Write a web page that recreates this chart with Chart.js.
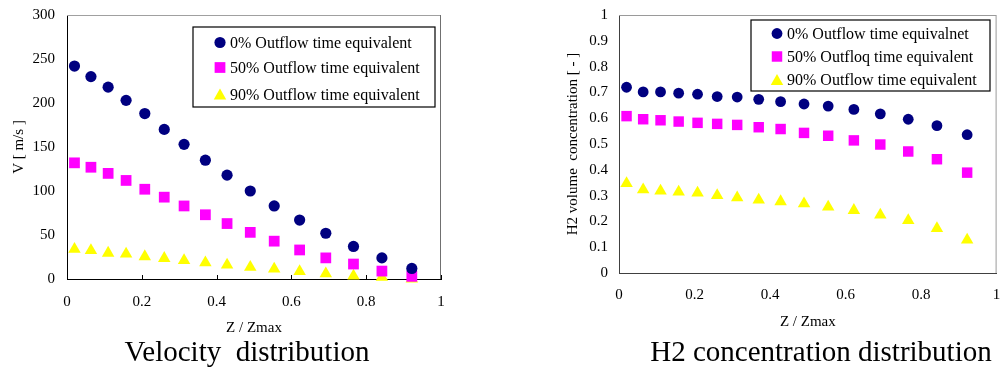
<!DOCTYPE html>
<html>
<head>
<meta charset="utf-8">
<script src="https://cdn.jsdelivr.net/npm/chart.js@4.4.1/dist/chart.umd.min.js"></script>
<style>
  html, body { margin: 0; padding: 0; background: #fff; }
  body { width: 1004px; height: 369px; position: relative; overflow: hidden; font-family: "Liberation Serif", "Times New Roman", serif; }
  canvas { position: absolute; top: 0; }
  #velChart { left: 0; }
  #h2Chart { left: 530px; }
  .caption { position: absolute; top: 337px; font-size: 29px; line-height: 29px; white-space: pre; transform: translateX(-50%); color: #000; }
</style>
</head>
<body>
<canvas id="velChart" width="470" height="340"></canvas>
<canvas id="h2Chart" width="474" height="340"></canvas>
<div class="caption" style="left:247px">Velocity  distribution</div>
<div class="caption" style="left:821px">H2 concentration distribution</div>
<script>
// Z / Zmax positions shared by every series
const zRatio = [0.02, 0.064, 0.11, 0.158, 0.208, 0.26, 0.313, 0.37, 0.428, 0.49, 0.554, 0.622, 0.692, 0.766, 0.842, 0.922];

const velocity0 = [242, 230, 218, 203, 188, 170, 153, 135, 118, 100, 83, 67, 52, 37, 24, 12];
const velocity50 = [132, 127, 120, 112, 102, 93, 83, 73, 63, 53, 43, 33, 24, 17, 9, 3];
const velocity90 = [34, 32.5, 29.5, 28.5, 25.5, 23.5, 21, 18.5, 16, 13.5, 11.5, 8.5, 6, 3.5, 2, 0];

const h2Conc0 = [0.72, 0.702, 0.702, 0.697, 0.693, 0.684, 0.682, 0.673, 0.664, 0.655, 0.647, 0.634, 0.617, 0.596, 0.571, 0.536];
const h2Conc50 = [0.608, 0.596, 0.592, 0.587, 0.582, 0.578, 0.574, 0.565, 0.558, 0.543, 0.532, 0.514, 0.498, 0.471, 0.441, 0.389];
const h2Conc90 = [0.347, 0.323, 0.318, 0.314, 0.31, 0.301, 0.292, 0.283, 0.277, 0.269, 0.256, 0.243, 0.225, 0.204, 0.173, 0.128];

const velocityLabels = ["0% Outflow time equivalent", "50% Outflow time equivalent", "90% Outflow time equivalent"];
const h2Labels = ["0% Outflow time equivalnet", "50% Outfloq time equivalent", "90% Outflow time equivalent"];

const seriesColors = ["#000080", "#ff00ff", "#ffff00"];
const seriesStyles = ["circle", "rect", "triangle"];

const FONT = "'Liberation Serif', 'Times New Roman', serif";

function toPoints(ys) {
  return zRatio.map((z, i) => ({ x: z, y: ys[i] }));
}

function makeDatasets(labels, series, radii) {
  return series.map((ys, i) => ({
    label: labels[i],
    data: toPoints(ys),
    pointStyle: seriesStyles[i],
    pointRadius: radii[i],
    pointHoverRadius: radii[i],
    pointBorderWidth: 0,
    pointBackgroundColor: seriesColors[i],
    borderColor: seriesColors[i],
    showLine: false,
    clip: false,
  }));
}

function drawMarker(ctx, style, r, x, y, color) {
  ctx.fillStyle = color;
  ctx.beginPath();
  if (style === "circle") {
    ctx.arc(x, y, r, 0, Math.PI * 2);
  } else if (style === "rect") {
    const s = r * Math.SQRT1_2;
    ctx.rect(x - s, y - s, 2 * s, 2 * s);
  } else {
    ctx.moveTo(x, y - r);
    ctx.lineTo(x + 0.866 * r, y + 0.5 * r);
    ctx.lineTo(x - 0.866 * r, y + 0.5 * r);
    ctx.closePath();
  }
  ctx.fill();
}

function plainTick(v) {
  return String(Math.round(v * 10) / 10);
}

// plot area frame (top/right edges) and small inward ticks on x axis
const framePlugin = {
  id: "frame",
  beforeDatasetsDraw(chart, args, opts) {
    const a = chart.chartArea;
    const ctx = chart.ctx;
    ctx.save();
    ctx.lineWidth = 1;
    ctx.strokeStyle = opts.topColor;
    ctx.beginPath();
    ctx.moveTo(a.left, a.top + 0.5);
    ctx.lineTo(a.right - 0.5, a.top + 0.5);
    ctx.stroke();
    ctx.strokeStyle = opts.rightColor;
    ctx.beginPath();
    ctx.moveTo(a.right - 0.5, a.top);
    ctx.lineTo(a.right - 0.5, a.bottom);
    ctx.stroke();
    if (opts.innerTicks) {
      const xs = chart.scales.x;
      ctx.strokeStyle = opts.axisColor;
      ctx.beginPath();
      xs.ticks.forEach(t => {
        const px = Math.round(xs.getPixelForValue(t.value)) + 0.5;
        ctx.moveTo(px, a.bottom);
        ctx.lineTo(px, a.bottom - 4);
      });
      ctx.stroke();
    }
    ctx.restore();
  },
};

// framed legend inside the plot area
const boxLegendPlugin = {
  id: "boxLegend",
  afterDraw(chart, args, opts) {
    const ctx = chart.ctx;
    const [x1, y1, x2, y2] = opts.box;
    ctx.save();
    ctx.fillStyle = "#fff";
    ctx.fillRect(x1, y1, x2 - x1, y2 - y1);
    ctx.strokeStyle = "#000";
    ctx.lineWidth = 1.2;
    ctx.strokeRect(x1, y1, x2 - x1, y2 - y1);
    ctx.font = "16px " + FONT;
    ctx.textBaseline = "alphabetic";
    ctx.textAlign = "left";
    chart.data.datasets.forEach((ds, i) => {
      const y = opts.rows[i];
      const r = ds.pointRadius;
      const dy = ds.pointStyle === "triangle" ? r / 4 : 0;
      drawMarker(ctx, ds.pointStyle, r, opts.markerX, y + dy, ds.pointBackgroundColor);
      ctx.fillStyle = "#000";
      ctx.fillText(ds.label, opts.textX, y + 5.5);
    });
    ctx.restore();
  },
};

function makeChart(id, cfg) {
  return new Chart(document.getElementById(id), {
    type: "scatter",
    data: { datasets: cfg.datasets },
    options: {
      responsive: false,
      animation: false,
      devicePixelRatio: 1,
      layout: { padding: { left: 0, top: 15, right: cfg.padRight, bottom: 0 } },
      plugins: {
        legend: { display: false },
        tooltip: { enabled: false },
        frame: cfg.frame,
        boxLegend: cfg.legend,
      },
      scales: {
        x: {
          type: "linear",
          min: 0,
          max: 1,
          ticks: { stepSize: 0.2, padding: cfg.xTickPad, color: "#000", font: { family: FONT, size: 15 }, callback: plainTick },
          grid: { display: false, drawTicks: false },
          border: { display: true, color: cfg.frame.axisColor, width: 1 },
          title: { display: true, text: "Z / Zmax", color: "#000", font: { family: FONT, size: 15 }, padding: { top: 0, bottom: cfg.xTitlePad } },
          afterFit(scale) {
            scale.height = cfg.xHeight;
            scale.paddingLeft = 0;
            scale.paddingRight = 0;
          },
        },
        y: {
          type: "linear",
          min: 0,
          max: cfg.yMax,
          ticks: { stepSize: cfg.yStep, padding: cfg.yTickPad, color: "#000", font: { family: FONT, size: 15 }, callback: plainTick },
          grid: { display: false, drawTicks: false },
          border: { display: true, color: cfg.frame.axisColor, width: 1 },
          title: { display: true, text: cfg.yTitle, color: "#000", font: { family: FONT, size: 15 }, padding: { top: cfg.yTitlePad, bottom: 0 } },
          afterFit(scale) {
            scale.width = cfg.yWidth;
            scale.paddingTop = 0;
            scale.paddingBottom = 0;
          },
        },
      },
    },
    plugins: [framePlugin, boxLegendPlugin],
  });
}

makeChart("velChart", {
  datasets: makeDatasets(velocityLabels, [velocity0, velocity50, velocity90], [5.6, 7.6, 7.2]),
  padRight: 29,
  xHeight: 61,
  xTickPad: 14,
  xTitlePad: 3,
  yWidth: 67,
  yTickPad: 12,
  yTitlePad: 10,
  yMax: 300,
  yStep: 50,
  yTitle: "V [ m/s ]",
  frame: { topColor: "#a0a0a0", rightColor: "#707070", axisColor: "#000", innerTicks: true },
  legend: { box: [193, 27, 435, 107], markerX: 220, textX: 230, rows: [42.5, 67.5, 94] },
});

makeChart("h2Chart", {
  datasets: makeDatasets(h2Labels, [h2Conc0, h2Conc50, h2Conc90], [5.4, 7.4, 7.2]),
  padRight: 6,
  xHeight: 67,
  xTickPad: 13,
  xTitlePad: 9,
  yWidth: 89,
  yTickPad: 11,
  yTitlePad: 34,
  yMax: 1,
  yStep: 0.1,
  yTitle: "H2 volume  concentration [ - ]",
  frame: { topColor: "#9a9a9a", rightColor: "#9a9a9a", axisColor: "#404040", innerTicks: false },
  legend: { box: [221, 20, 460, 91], markerX: 247, textX: 257, rows: [33.5, 56.5, 79.5] },
});
</script>
</body>
</html>
